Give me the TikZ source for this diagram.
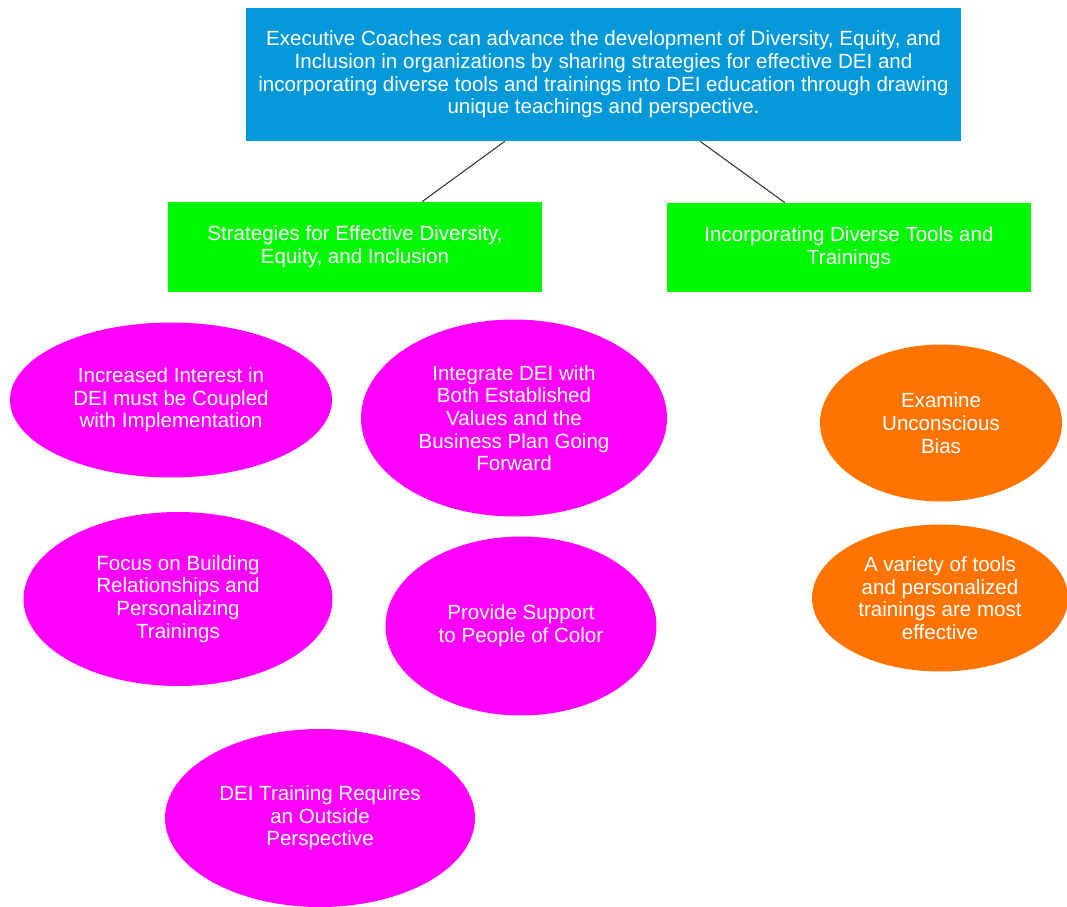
\documentclass[tikz,border=0pt]{standalone}
\usepackage{fontspec}
\setmainfont{Liberation Sans}
\usepackage{tikz}
\usepackage{xcolor}
\usetikzlibrary{positioning,shapes.geometric,calc}
\definecolor{capblue}{HTML}{0399D9}
\definecolor{capgreen}{HTML}{00F900}
\definecolor{ovalpink}{HTML}{FF00FF}
\definecolor{ovalorange}{HTML}{FF7300}
\definecolor{linkgray}{HTML}{333333}
\tikzset{
  topcard/.style={fill=capblue,draw=none,align=center,inner sep=0pt,
                  text=white,font=\fontsize{11.7}{12.9}\selectfont},
  greencard/.style={fill=capgreen,draw=none,align=center,inner sep=0pt,
                    text=white,font=\fontsize{11.7}{12.9}\selectfont},
  pinkoval/.style={ellipse,fill=ovalpink,draw=none,align=center,inner sep=0pt,
                   text=white,font=\fontsize{11.7}{12.9}\selectfont},
  orangeoval/.style={ellipse,fill=ovalorange,draw=none,align=center,inner sep=0pt,
                     text=white,font=\fontsize{11.7}{12.9}\selectfont},
  link/.style={draw=linkgray,line width=0.6pt}
}
\begin{document}
\begin{tikzpicture}[x=0.02cm,y=-0.02cm]
    \path[use as bounding box] (0,0) rectangle (1067,906);
    \node[topcard,minimum width=14.3cm,minimum height=2.66cm] (thesis) at (603.5,74.5)
      {Executive Coaches can advance the development of Diversity, Equity, and\\
       Inclusion in organizations by sharing strategies for effective DEI and\\
       incorporating diverse tools and trainings into DEI education through drawing\\
       unique teachings and perspective.};

    \node[greencard,minimum width=7.48cm,minimum height=1.8cm] (strat) at (355,247)
      {Strategies for Effective Diversity,\\Equity, and Inclusion};
    \node[greencard,minimum width=7.28cm,minimum height=1.78cm] (tools) at (849,247.5)
      {Incorporating Diverse Tools and\\Trainings};

    \draw[link] ($(thesis.south west)!0.362!(thesis.south east)$)
      -- ($(strat.north west)!0.679!(strat.north east)$);
    \draw[link] ($(thesis.south west)!0.635!(thesis.south east)$)
      -- ($(tools.north west)!0.324!(tools.north east)$);

    \node[pinkoval,minimum width=6.44cm,minimum height=3.1cm] (interest) at (171,400)
      {Increased Interest in\\DEI must be Coupled\\with Implementation};
    \node[pinkoval,minimum width=6.12cm,minimum height=3.94cm] (integrate) at (514,418)
      {Integrate DEI with\\Both Established\\Values and the\\Business Plan Going\\Forward};
    \node[pinkoval,minimum width=6.18cm,minimum height=3.48cm] (focus) at (178,599)
      {Focus on Building\\Relationships and\\Personalizing\\Trainings};
    \node[pinkoval,minimum width=5.42cm,minimum height=3.58cm] (support) at (521,626)
      {Provide Support\\to People of Color};
    \node[pinkoval,minimum width=6.2cm,minimum height=3.56cm] (outside) at (320,818)
      {DEI Training Requires\\an Outside\\Perspective};

    \node[orangeoval,minimum width=4.84cm,minimum height=3.14cm] (bias) at (941,423)
      {Examine\\Unconscious\\Bias};
    \node[orangeoval,minimum width=5.12cm,minimum height=2.94cm] (variety) at (940,598)
      {A variety of tools\\and personalized\\trainings are most\\effective};
  \end{tikzpicture}
\end{document}
